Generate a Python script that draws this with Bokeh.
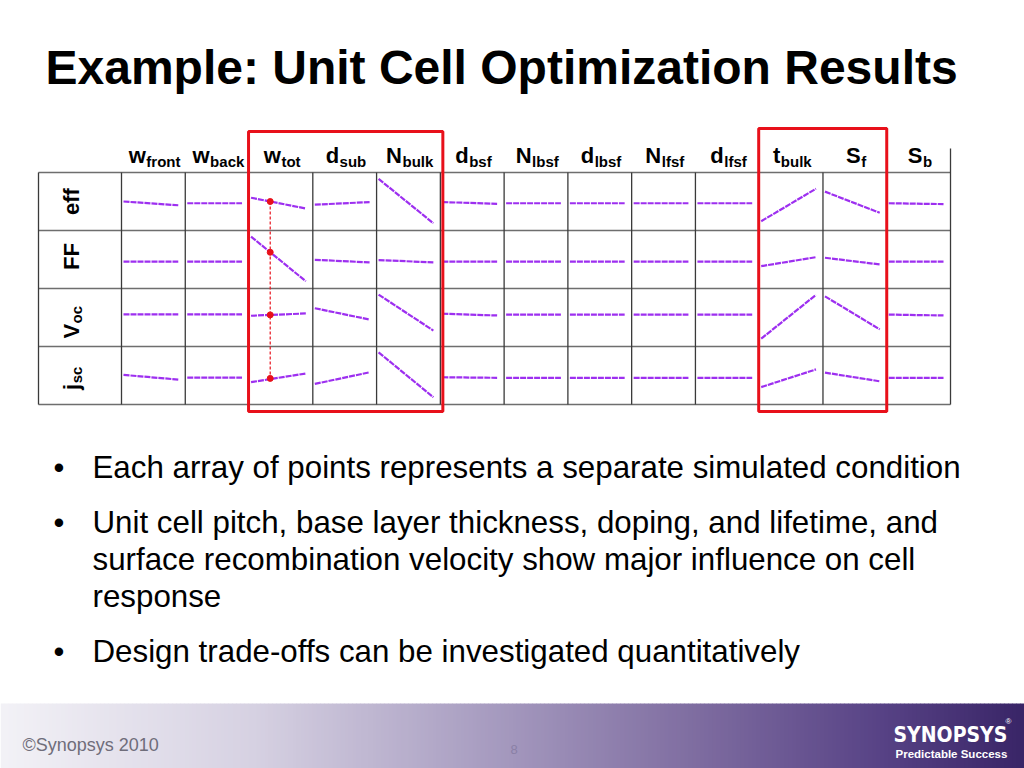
import numpy as np
from bokeh.plotting import figure
from bokeh.models import Range1d
from bokeh.core.properties import value
from bokeh.embed import file_html
from bokeh.resources import INLINE

# ---------------- data ----------------
title_text = "Example: Unit Cell Optimization Results"

param_main = ["w", "w", "w", "d", "N", "d", "N", "d", "N", "d", "t", "S", "S"]
param_sub = ["front", "back", "tot", "sub", "bulk", "bsf", "lbsf", "lbsf", "lfsf", "lfsf", "bulk", "f", "b"]

resp_main = ["eff", "FF", "V", "j"]
resp_sub = ["", "", "oc", "sc"]

# normalised response at the lowest / highest value of each parameter (+1 = top of cell)
eff_start = [0.00, -0.06, 0.13, -0.11, 0.78, -0.02, -0.06, -0.06, -0.06, -0.06, -0.68, 0.34, -0.06]
eff_end = [-0.13, -0.06, -0.24, -0.02, -0.75, -0.08, -0.06, -0.06, -0.06, -0.06, 0.44, -0.39, -0.09]
ff_start = [-0.07, -0.07, 0.79, -0.01, -0.02, -0.07, -0.07, -0.07, -0.07, -0.07, -0.23, 0.06, -0.07]
ff_end = [-0.07, -0.07, -0.75, -0.10, -0.10, -0.07, -0.07, -0.07, -0.07, -0.07, 0.08, -0.17, -0.07]
voc_start = [0.11, 0.11, 0.06, 0.32, 0.79, 0.13, 0.10, 0.10, 0.10, 0.10, -0.73, 0.73, 0.10]
voc_end = [0.11, 0.11, 0.14, -0.07, -0.45, 0.07, 0.10, 0.10, 0.10, 0.10, 0.78, -0.41, 0.07]
jsc_start = [0.02, -0.07, -0.23, -0.29, 0.80, -0.06, -0.08, -0.08, -0.08, -0.08, -0.40, 0.10, -0.08]
jsc_end = [-0.14, -0.07, 0.07, 0.11, -0.75, -0.08, -0.08, -0.08, -0.08, -0.08, 0.21, -0.20, -0.08]

# nominal (optimum) w_tot point on each response
wtot_nominal = [0.00, 0.25, 0.09, -0.10]
wtot_col = 2
nominal_frac = 0.35

highlight_cols = [(2, 4), (10, 11)]

bullets = [
    ["Each array of points represents a separate simulated condition"],
    ["Unit cell pitch, base layer thickness, doping, and lifetime, and",
     "surface recombination velocity show major influence on cell",
     "response"],
    ["Design trade-offs can be investigated quantitatively"],
]

footer_left = "\u00a9Synopsys 2010"
page_no = "8"

# ---------------- layout constants ----------------
W, H = 1024, 768
FONT = "Liberation Sans"
PURPLE = "#9d2ff0"
RED = "#e8101a"
BL = 0.34  # baseline correction factor (em)

tbl_left = 38.0
col0 = 121.0
col_w = 63.77
row_top = 172.0
row_h = 58.0
ncol = len(param_main)
nrow = len(resp_main)
tbl_right = col0 + ncol * col_w
tbl_bottom = row_top + nrow * row_h
half = 29.0

p = figure(width=W, height=H, output_backend="svg", toolbar_location=None,
           x_range=Range1d(0, W), y_range=Range1d(H, 0),
           min_border=0, outline_line_color=None, background_fill_color="white")
p.axis.visible = False
p.grid.visible = False

# ---------------- footer gradient ----------------
stops_x = [0, 256, 512, 700, 880, 1024]
stops_c = [(243, 242, 247), (214, 209, 226), (163, 151, 189), (126, 108, 160), (88, 67, 134), (57, 37, 103)]
xs = np.arange(0, W, 4.0)
cols = []
for x in xs:
    xm = x + 2
    r = int(np.interp(xm, stops_x, [c[0] for c in stops_c]))
    g = int(np.interp(xm, stops_x, [c[1] for c in stops_c]))
    b = int(np.interp(xm, stops_x, [c[2] for c in stops_c]))
    cols.append("#%02x%02x%02x" % (r, g, b))
p.quad(left=xs, right=xs + 4.5, top=[703] * len(xs), bottom=[H] * len(xs),
       fill_color=cols, line_color=None)


def btext(x, y, text, fs, **kw):
    """text placed by its alphabetic baseline y"""
    p.text(x=x, y=[v - BL * fs for v in y], text=text, text_font=kw.pop("font", value(FONT)),
           text_font_size=f"{fs}px", text_baseline="alphabetic", **kw)


# ---------------- title ----------------
btext([45], [83], [title_text], 48, text_font_style="bold", text_color="black")

# ---------------- table grid ----------------
hx0, hx1, hy = [], [], []
for i in range(nrow + 1):
    y = row_top + i * row_h
    hx0.append(tbl_left); hx1.append(tbl_right); hy.append(y)
p.segment(x0=hx0, x1=hx1, y0=hy, y1=hy, line_color="#6e6e6e", line_width=1.3)

vx, vy0, vy1 = [tbl_left], [row_top], [tbl_bottom]
for j in range(ncol + 1):
    vx.append(col0 + j * col_w)
    vy0.append(row_top if j < ncol else 148)
    vy1.append(tbl_bottom)
p.segment(x0=vx, x1=vx, y0=vy0, y1=vy1, line_color="#3a3a3a", line_width=1.3)

# ---------------- header labels ----------------
cw = {"w": .778, "d": .611, "N": .722, "t": .333, "S": .667, "V": .667, "j": .278,
      "e": .556, "f": .333, "F": .611, "r": .389, "o": .611, "n": .611, "b": .611,
      "a": .556, "c": .556, "k": .556, "s": .556, "u": .611, "l": .278, "i": .278}
MAIN_FS, SUB_FS = 22.0, 15.0


def tw(s, fs):
    return sum(cw.get(ch, .6) for ch in s) * fs


mx, sx = [], []
for j in range(ncol):
    c = col0 + (j + 0.5) * col_w
    wm = tw(param_main[j], MAIN_FS)
    ws = tw(param_sub[j], SUB_FS)
    split = c - (wm + ws) / 2 + wm + 1
    mx.append(split)
    sx.append(split + 0.5)
btext(mx, [162] * ncol, param_main, MAIN_FS, text_font_style="bold", text_align="right", text_color="black")
btext(sx, [166] * ncol, param_sub, SUB_FS, text_font_style="bold", text_align="left", text_color="black")

# ---------------- row labels (rotated) ----------------
row_offsets = [0, -3, 5, 3]
ry_split, ry_sub = [], []
for i in range(nrow):
    c = row_top + (i + 0.5) * row_h + row_offsets[i]
    wm = tw(resp_main[i], MAIN_FS)
    ws = tw(resp_sub[i], SUB_FS)
    split = c + (wm + ws) / 2 - wm
    ry_split.append(split)
    ry_sub.append(split - 0.5)
p.text(x=[78 - BL * MAIN_FS] * nrow, y=ry_split, text=resp_main, angle=np.pi / 2, text_font=value(FONT),
       text_font_style="bold", text_font_size=f"{MAIN_FS}px", text_align="right",
       text_baseline="alphabetic", text_color="black")
p.text(x=[81 - BL * SUB_FS] * nrow, y=ry_sub, text=resp_sub, angle=np.pi / 2, text_font=value(FONT),
       text_font_style="bold", text_font_size=f"{SUB_FS}px", text_align="left",
       text_baseline="alphabetic", text_color="black")

# ---------------- mini response lines ----------------
starts = [eff_start, ff_start, voc_start, jsc_start]
ends = [eff_end, ff_end, voc_end, jsc_end]
lxs, lys = [], []
for i in range(nrow):
    rc = row_top + (i + 0.5) * row_h
    for j in range(ncol):
        x0 = col0 + j * col_w + 2
        x1 = col0 + (j + 1) * col_w - 7
        lxs.append([x0, x1])
        lys.append([rc - starts[i][j] * half, rc - ends[i][j] * half])
p.multi_line(xs=lxs, ys=lys, line_color=PURPLE, line_width=2.2, line_dash="6 1")

# ---------------- nominal w_tot points ----------------
dx = col0 + wtot_col * col_w + 2 + nominal_frac * (col_w - 9)
dys = [row_top + (i + 0.5) * row_h - wtot_nominal[i] * half for i in range(nrow)]
p.segment(x0=[dx], x1=[dx], y0=[dys[0]], y1=[dys[-1]], line_color=RED, line_width=1.2, line_dash="3 2")
p.scatter(x=[dx] * nrow, y=dys, size=6, fill_color=RED, line_color=RED)

# ---------------- highlight boxes ----------------
box_tops = [131, 128]
bl, br, bt, bb = [], [], [], []
for k, (a, b) in enumerate(highlight_cols):
    bl.append(col0 + a * col_w - 0.5)
    br.append(col0 + (b + 1) * col_w + (2.5 if k == 0 else 0))
    bt.append(box_tops[k])
    bb.append(411)
p.quad(left=bl, right=br, top=bt, bottom=bb, fill_color=None, line_color=RED, line_width=3)

# ---------------- bullets ----------------
BFS = 31.3
y = 478
bx, by, btxt, dotx, doty = [], [], [], [], []
for para in bullets:
    dotx.append(53); doty.append(y)
    for line in para:
        bx.append(92); by.append(y); btxt.append(line)
        y += 37
    y += 18
btext(dotx, doty, ["\u2022"] * len(dotx), 31, text_color="black")
btext(bx, by, btxt, BFS, text_color="black")

# ---------------- footer texts ----------------
btext([22], [751], [footer_left], 18, text_color="#6f6d7a")
btext([510], [753], [page_no], 13, text_color="#8a80a6")
btext([893], [742], ["SYNOPSYS"], 21, font=value("DejaVu Sans Condensed, Liberation Sans"),
      text_font_style="bold", text_color="white")
btext([1005], [724], ["\u00ae"], 8, text_color="white")
btext([895], [757], ["Predictable Success"], 11.5, text_font_style="bold", text_color="white")

open("out.html", "w").write(file_html(p, INLINE))
